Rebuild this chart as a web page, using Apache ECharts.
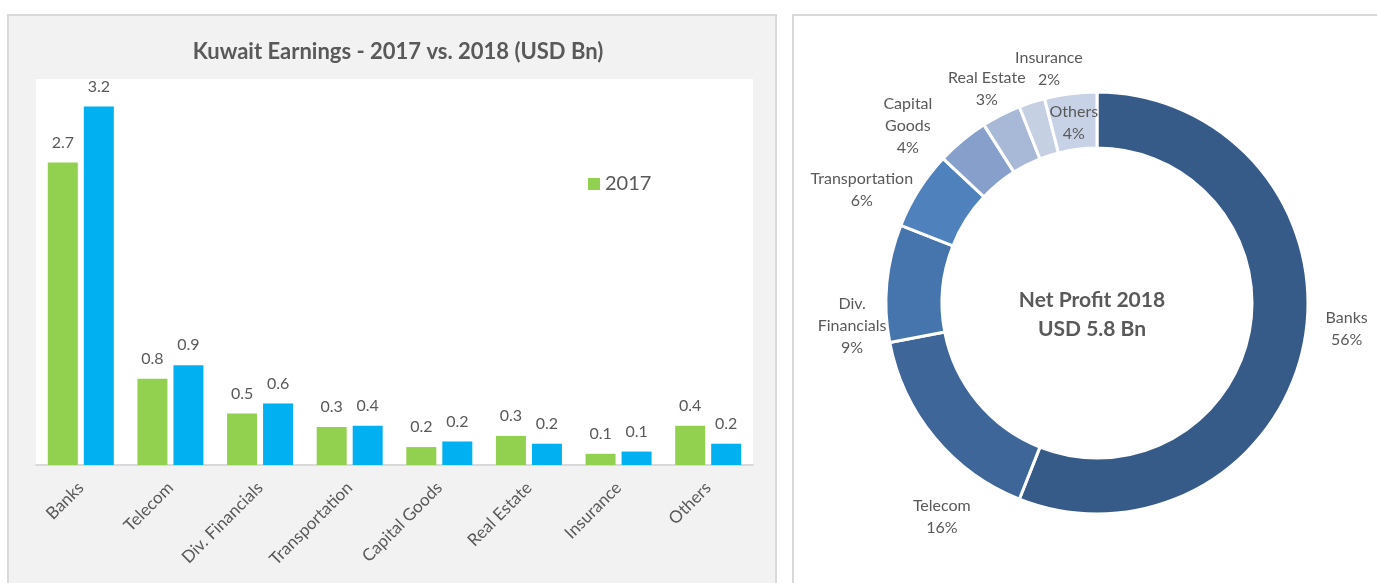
<!DOCTYPE html>
<html>
<head>
<meta charset="utf-8">
<script src="https://cdn.jsdelivr.net/npm/echarts@6/dist/echarts.min.js"></script>
<style>
  html, body { margin: 0; padding: 0; background: #fff; }
  #chart { width: 1377px; height: 583px; }
</style>
</head>
<body>
<div id="chart"></div>
<script>
  // data
  const categories = ['Banks', 'Telecom', 'Div. Financials', 'Transportation', 'Capital Goods', 'Real Estate', 'Insurance', 'Others'];
  const earnings2017 = [2.70, 0.77, 0.46, 0.34, 0.16, 0.26, 0.10, 0.35];
  const earnings2018 = [3.20, 0.89, 0.55, 0.35, 0.21, 0.19, 0.12, 0.19];
  // net profit 2018 shares (%)
  const pieNames = ['Banks', 'Telecom', 'Div.\nFinancials', 'Transportation', 'Capital\nGoods', 'Real Estate', 'Insurance', 'Others'];
  const pieShares = [56, 16, 9, 6, 4, 3, 2, 4];

  // layout / style
  const pieColors = ['#375b88', '#3e6699', '#4675ad', '#4f81bd', '#86a0cb', '#a8b8d7', '#c6d0e3', '#c8d2e6'];
  const pieCenter = [1097, 303];
  // label placement in the donut panel: [angle clockwise from top, distance]
  const labelPolar = [[96, 251], [216, 264], [264.6, 246], [295.7, 261], [313.1, 259], [332.8, 241], [348.4, 239], [352.7, 182]];
  const textColor = '#595959';
  const font = 'Lato, "Open Sans", sans-serif';

  const chart = echarts.init(document.getElementById('chart'));

  const fmt = v => (Math.round(v * 10) / 10).toFixed(1);

  const option = {
    animation: false,
    textStyle: { fontFamily: font },
    graphic: [
      { type: 'rect', z: -10, shape: { x: 8, y: 15, width: 768, height: 590 },
        style: { fill: '#f2f2f2', stroke: '#d9d9d9', lineWidth: 2 } },
      { type: 'rect', z: -9, shape: { x: 36, y: 79, width: 717, height: 387 },
        style: { fill: '#ffffff' } },
      { type: 'rect', z: -10, shape: { x: 793, y: 15, width: 600, height: 590 },
        style: { fill: '#ffffff', stroke: '#d9d9d9', lineWidth: 2 } },
      { type: 'text', z: 10, x: 1092, y: 315,
        style: { text: 'Net Profit 2018\nUSD 5.8 Bn', align: 'center', verticalAlign: 'middle',
                 font: 'bold 21px ' + font, fill: textColor, lineHeight: 29 } }
    ],
    title: {
      text: 'Kuwait Earnings - 2017 vs. 2018 (USD Bn)',
      left: 393, top: 36, textAlign: 'center',
      textStyle: { fontSize: 22, fontWeight: 'bold', color: textColor, fontFamily: font }
    },
    legend: {
      data: ['2017'],
      left: 583, top: 169,
      icon: 'rect', itemWidth: 12, itemHeight: 12, itemGap: 8,
      textStyle: { fontSize: 20, color: textColor, fontFamily: font }
    },
    grid: { left: 36, width: 717, top: 73, height: 392 },
    xAxis: {
      type: 'category',
      data: categories,
      axisLine: { lineStyle: { color: '#d9d9d9', width: 2 } },
      axisTick: { show: false },
      axisLabel: { rotate: 45, margin: 20, fontSize: 17, color: textColor, interval: 0 }
    },
    yAxis: { type: 'value', min: 0, max: 3.5, show: false, splitLine: { show: false } },
    series: [
      {
        name: '2017', type: 'bar', data: earnings2017,
        barWidth: 30, barGap: '20%',
        itemStyle: { color: '#92d050' },
        label: { show: true, position: 'top', distance: 12, fontSize: 16, color: textColor,
                 formatter: p => fmt(p.value) }
      },
      {
        name: '2018', type: 'bar', data: earnings2018,
        barWidth: 30,
        itemStyle: { color: '#00b0f0' },
        label: { show: true, position: 'top', distance: 12, fontSize: 16, color: textColor,
                 formatter: p => fmt(p.value) }
      },
      {
        name: 'Net Profit 2018', type: 'pie',
        center: pieCenter, radius: [155, 211],
        startAngle: 90, clockwise: true,
        avoidLabelOverlap: false,
        data: pieNames.map((n, i) => ({ name: n, value: pieShares[i], itemStyle: { color: pieColors[i] } })),
        itemStyle: { borderColor: '#ffffff', borderWidth: 3 },
        label: { show: true, position: 'outside', formatter: '{b}\n{d}%', fontSize: 16,
                 lineHeight: 22, color: textColor },
        labelLine: { show: false },
        labelLayout: function (params) {
          const pl = labelPolar[params.dataIndex];
          const a = pl[0] * Math.PI / 180;
          return {
            x: pieCenter[0] + pl[1] * Math.sin(a),
            y: pieCenter[1] - pl[1] * Math.cos(a),
            align: 'center', verticalAlign: 'middle'
          };
        }
      }
    ]
  };

  chart.setOption(option);
</script>
</body>
</html>
